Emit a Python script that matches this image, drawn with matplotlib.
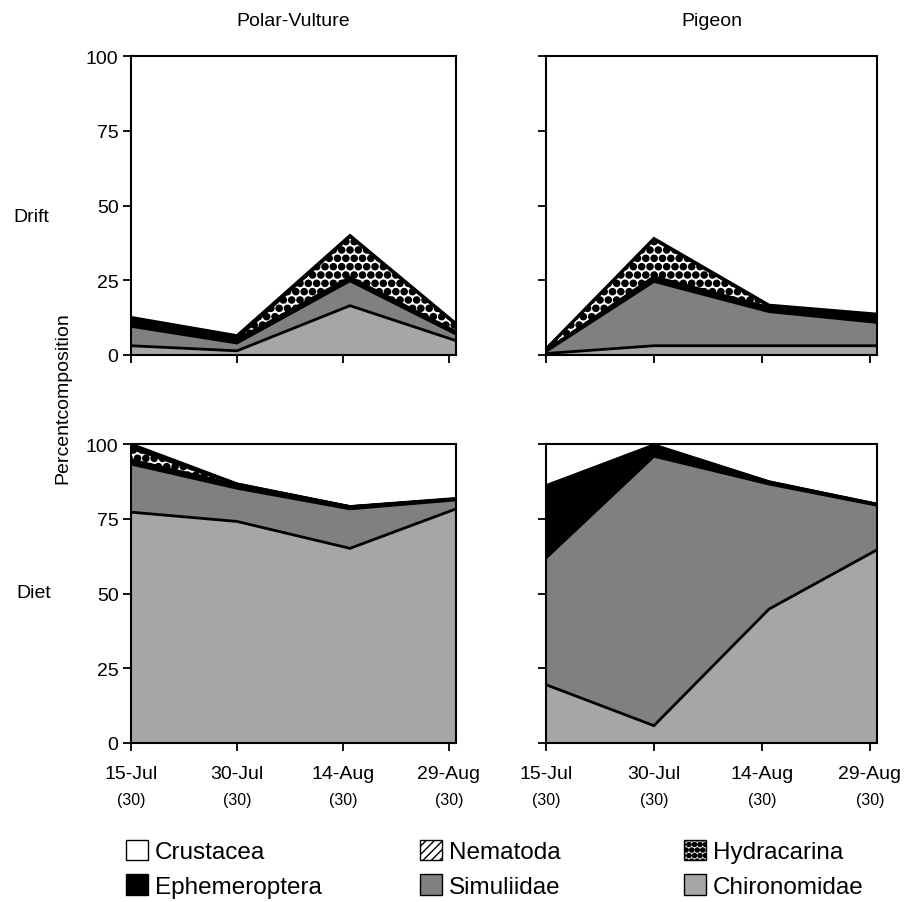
import numpy as np
import matplotlib
matplotlib.use("Agg")
import matplotlib.pyplot as plt
import matplotlib.dates as mdates
import matplotlib.hatch as mhatch
from matplotlib.patches import Patch
import datetime as dt

plt.rcParams['font.family'] = ['Liberation Sans', 'DejaVu Sans']


# larger filled dots for the "." hatch (Hydracarina pattern)
def _dots_init(self, hatch, density):
    self.num_rows = hatch.count('.') * 6
    mhatch.Circles.__init__(self, hatch, density)


mhatch.SmallFilledCircles.__init__ = _dots_init
mhatch.SmallFilledCircles.size = 0.37

# ---- data -------------------------------------------------------------
sample_dates = [dt.date(2003, 7, 15), dt.date(2003, 7, 30),
                dt.date(2003, 8, 15), dt.date(2003, 8, 30)]
tick_dates = [dt.date(2003, 7, 15), dt.date(2003, 7, 30),
              dt.date(2003, 8, 14), dt.date(2003, 8, 29)]
sample_sizes = ["(30)", "(30)", "(30)", "(30)"]

taxa = ["Chironomidae", "Simuliidae", "Ephemeroptera",
        "Hydracarina", "Nematoda", "Crustacea"]
sites = ["Polar-Vulture", "Pigeon"]
rows = ["Drift", "Diet"]

# Drift, Polar-Vulture
drift_pv_chironomidae = [3.1, 1.4, 16.5, 4.8]
drift_pv_simuliidae = [6.5, 2.6, 8.3, 2.2]
drift_pv_ephemeroptera = [1.9, 1.1, 1.2, 0.8]
drift_pv_hydracarina = [0.5, 0.4, 13.6, 2.4]
drift_pv_nematoda = [0.3, 0.5, 0.2, 0.2]
drift_pv_crustacea = [0.3, 0.5, 0.2, 0.1]

# Drift, Pigeon
drift_pg_chironomidae = [0.5, 3.1, 3.1, 3.1]
drift_pg_simuliidae = [0.7, 21.5, 11.4, 7.8]
drift_pg_ephemeroptera = [0.3, 1.6, 1.4, 1.4]
drift_pg_hydracarina = [0.4, 12.5, 0.4, 0.6]
drift_pg_nematoda = [0.1, 0.1, 0.2, 0.5]
drift_pg_crustacea = [0.0, 0.2, 0.2, 0.3]

# Diet, Polar-Vulture
diet_pv_chironomidae = [77.2, 74.1, 65.1, 78.3]
diet_pv_simuliidae = [16.1, 11.1, 13.2, 3.0]
diet_pv_ephemeroptera = [1.4, 1.1, 0.7, 0.3]
diet_pv_hydracarina = [3.9, 0.2, 0.0, 0.0]
diet_pv_nematoda = [0.8, 0.1, 0.0, 0.0]
diet_pv_crustacea = [0.6, 0.1, 0.1, 0.2]

# Diet, Pigeon
diet_pg_chironomidae = [19.5, 5.8, 44.8, 64.6]
diet_pg_simuliidae = [42.4, 90.1, 41.8, 14.9]
diet_pg_ephemeroptera = [23.4, 3.3, 0.6, 0.3]
diet_pg_hydracarina = [0.2, 0.1, 0.0, 0.0]
diet_pg_nematoda = [0.3, 0.2, 0.1, 0.0]
diet_pg_crustacea = [0.3, 0.2, 0.1, 0.1]

panels = {
    ("Drift", "Polar-Vulture"): [drift_pv_chironomidae, drift_pv_simuliidae,
                                 drift_pv_ephemeroptera, drift_pv_hydracarina,
                                 drift_pv_nematoda, drift_pv_crustacea],
    ("Drift", "Pigeon"): [drift_pg_chironomidae, drift_pg_simuliidae,
                          drift_pg_ephemeroptera, drift_pg_hydracarina,
                          drift_pg_nematoda, drift_pg_crustacea],
    ("Diet", "Polar-Vulture"): [diet_pv_chironomidae, diet_pv_simuliidae,
                                diet_pv_ephemeroptera, diet_pv_hydracarina,
                                diet_pv_nematoda, diet_pv_crustacea],
    ("Diet", "Pigeon"): [diet_pg_chironomidae, diet_pg_simuliidae,
                         diet_pg_ephemeroptera, diet_pg_hydracarina,
                         diet_pg_nematoda, diet_pg_crustacea],
}

# ---- styles -----------------------------------------------------------
styles = {
    "Chironomidae": dict(facecolor="#a6a6a6", hatch=None, hlw=1.0),
    "Simuliidae": dict(facecolor="#808080", hatch=None, hlw=1.0),
    "Ephemeroptera": dict(facecolor="#000000", hatch=None, hlw=1.0),
    "Hydracarina": dict(facecolor="#ffffff", hatch="..", hlw=1.0),
    "Nematoda": dict(facecolor="#ffffff", hatch="/////", hlw=0.8),
    "Crustacea": dict(facecolor="#ffffff", hatch=None, hlw=1.0),
}

W, H = 908, 903
fig = plt.figure(figsize=(W / 100, H / 100), dpi=100)

col_x = {"Polar-Vulture": (131, 456), "Pigeon": (546, 877)}
row_y = {"Drift": (57, 356), "Diet": (445, 744)}

x = mdates.date2num(sample_dates)
for r in rows:
    for s in sites:
        x0, x1 = col_x[s]
        y0, y1 = row_y[r]
        ax = fig.add_axes([x0 / W, 1 - y1 / H, (x1 - x0) / W, (y1 - y0) / H])
        base = np.zeros(len(x))
        for name, vals in zip(taxa, panels[(r, s)]):
            top = base + np.asarray(vals, dtype=float)
            st = styles[name]
            with plt.rc_context({"hatch.linewidth": st["hlw"]}):
                ax.fill_between(x, base, top, facecolor=st["facecolor"],
                                edgecolor="black", linewidth=0,
                                hatch=st["hatch"], zorder=2)
            ax.plot(x, top, color="black", lw=2.0, zorder=3,
                    solid_joinstyle="miter")
            base = top
        ax.set_xlim(x[0], x[-1])
        ax.set_ylim(0, 100)
        ax.set_yticks([0, 25, 50, 75, 100])
        ax.set_xticks(mdates.date2num(tick_dates))
        for sp in ax.spines.values():
            sp.set_linewidth(1.5)
            sp.set_zorder(5)
        ax.tick_params(direction="out", length=6, width=1.3, labelsize=14,
                       pad=3)
        if s == "Pigeon":
            ax.tick_params(labelleft=False)
        if r == "Drift":
            ax.tick_params(labelbottom=False)
            ax.set_title(s, fontsize=14, pad=22)
        else:
            ax.xaxis.set_major_formatter(mdates.DateFormatter("%d-%b"))
            ax.tick_params(axis="x", pad=10)
            for td, n in zip(tick_dates, sample_sizes):
                ax.text(mdates.date2num(td), -0.19, n, fontsize=11.5,
                        ha="center", va="center",
                        transform=ax.get_xaxis_transform())

fig.text(31 / W, 1 - 217 / H, "Drift", fontsize=14, ha="center", va="center")
fig.text(34 / W, 1 - 593 / H, "Diet", fontsize=14, ha="center", va="center")
fig.text(63 / W, 1 - 398 / H, "Percentcomposition", fontsize=14,
         rotation=90, ha="center", va="center")

legend_columns = [["Crustacea", "Ephemeroptera"],
                  ["Nematoda", "Simuliidae"],
                  ["Hydracarina", "Chironomidae"]]
legend_x = [126, 420, 684]
for names, lx in zip(legend_columns, legend_x):
    handles = []
    for name in names:
        st = styles[name]
        hatch = st["hatch"]
        if name == "Nematoda":
            hatch = "////"
        if name == "Hydracarina":
            hatch = "..."
        with plt.rc_context({"hatch.linewidth": st["hlw"]}):
            handles.append(Patch(facecolor=st["facecolor"], edgecolor="black",
                                 hatch=hatch, linewidth=1.0, label=name))
    fig.legend(handles=handles, loc="upper left", ncol=1, frameon=False,
               bbox_to_anchor=(lx / W, 1 - 841 / H), fontsize=17.5,
               handlelength=0.9, handleheight=0.9, handletextpad=0.3,
               labelspacing=0.45, borderaxespad=0, borderpad=0)

fig.savefig("out.png", dpi=100)
